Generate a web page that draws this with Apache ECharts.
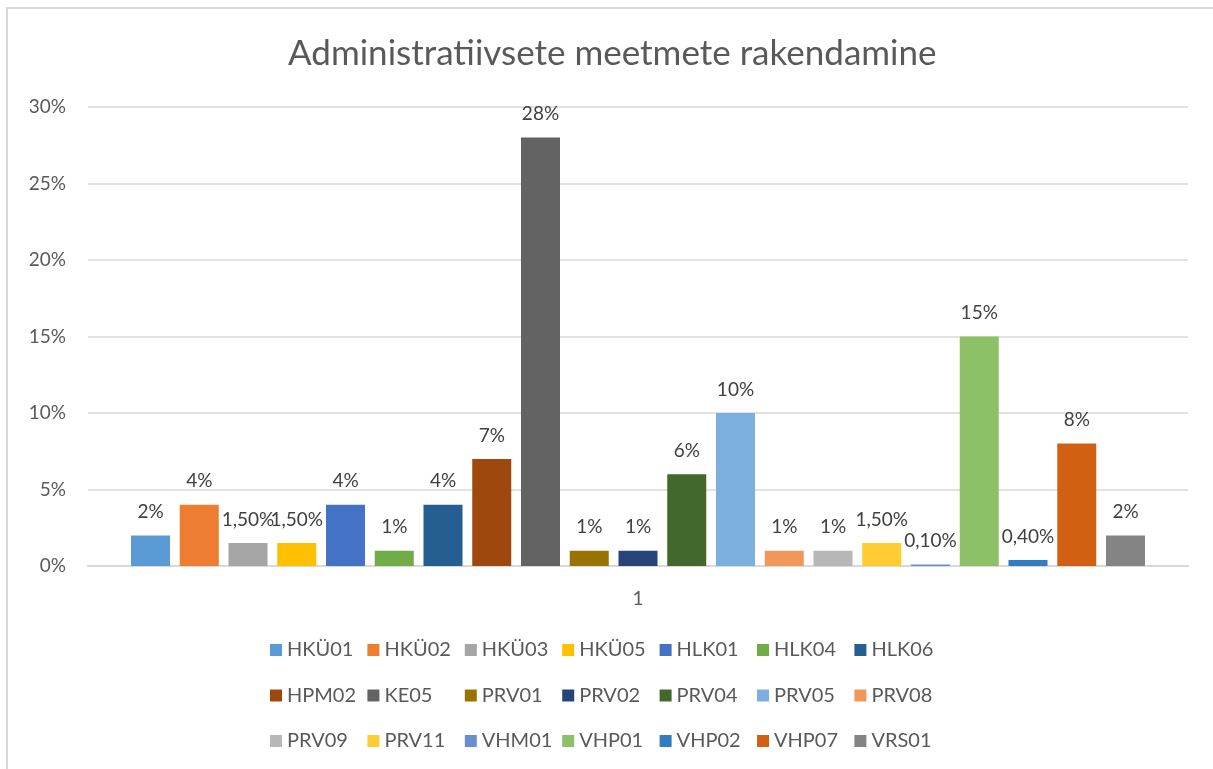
<!DOCTYPE html>
<html>
<head>
<meta charset="utf-8">
<script src="https://cdn.jsdelivr.net/npm/echarts@6/dist/echarts.min.js"></script>
<style>
  html, body { margin: 0; padding: 0; background: #fff; }
  #chart { width: 1213px; height: 769px; }
</style>
</head>
<body>
<div id="chart"></div>
<script>
const seriesNames = ['HKÜ01', 'HKÜ02', 'HKÜ03', 'HKÜ05', 'HLK01', 'HLK04', 'HLK06',
    'HPM02', 'KE05', 'PRV01', 'PRV02', 'PRV04', 'PRV05', 'PRV08',
    'PRV09', 'PRV11', 'VHM01', 'VHP01', 'VHP02', 'VHP07', 'VRS01'];
const seriesValues = [0.02, 0.04, 0.015, 0.015, 0.04, 0.01, 0.04,
    0.07, 0.28, 0.01, 0.01, 0.06, 0.10, 0.01,
    0.01, 0.015, 0.001, 0.15, 0.004, 0.08, 0.02];
const valueLabels = ['2%', '4%', '1,50%', '1,50%', '4%', '1%', '4%',
    '7%', '28%', '1%', '1%', '6%', '10%', '1%',
    '1%', '1,50%', '0,10%', '15%', '0,40%', '8%', '2%'];
const seriesColors = ['#5B9BD5', '#ED7D31', '#A5A5A5', '#FFC000', '#4472C4', '#70AD47', '#255E91',
    '#9E480E', '#636363', '#997300', '#264478', '#43682B', '#7CAFDD', '#F1975A',
    '#B7B7B7', '#FFCD33', '#698ED0', '#8CC168', '#327DC2', '#D26012', '#848484'];
const categories = ['1'];
const yTicks = [0, 0.05, 0.10, 0.15, 0.20, 0.25, 0.30];

const fontFamily = 'Lato, "Liberation Sans", sans-serif';

const chart = echarts.init(document.getElementById('chart'));

// Excel lays the legend out as a 7-column grid, so place each entry in its cell
const legendCells = seriesNames.map((name, i) => ({
    data: [name],
    left: 265 + (i % 7) * 97.4,
    top: 635 + Math.floor(i / 7) * 45.5,
    itemWidth: 12,
    itemHeight: 12,
    icon: 'rect',
    textStyle: {fontFamily: fontFamily, fontSize: 20, color: '#595959'}
}));

const series = seriesNames.map((name, i) => ({
    name: name,
    type: 'bar',
    data: [seriesValues[i]],
    barWidth: 39,
    barGap: '25%',
    itemStyle: {color: seriesColors[i]},
    label: {
        show: true,
        position: 'top',
        distance: 14,
        fontFamily: fontFamily,
        fontSize: 19,
        color: '#404040',
        formatter: () => valueLabels[i]
    }
}));

const options = {
    animation: false,
    title: {
        text: 'Administratiivsete meetmete rakendamine',
        left: 283,
        top: 31,
        textStyle: {fontFamily: fontFamily, fontSize: 35, fontWeight: 'normal', color: '#595959'}
    },
    legend: legendCells,
    grid: {left: 88, right: 25, top: 107, bottom: 203, containLabel: false},
    xAxis: {
        type: 'category',
        data: categories,
        axisLine: {lineStyle: {color: '#d9d9d9', width: 2}},
        axisTick: {show: false},
        axisLabel: {fontFamily: fontFamily, fontSize: 19, color: '#595959', margin: 23}
    },
    yAxis: {
        type: 'value',
        min: yTicks[0],
        max: yTicks[yTicks.length - 1],
        interval: 0.05,
        axisLine: {show: false},
        axisTick: {show: false},
        splitLine: {lineStyle: {color: '#d9d9d9', width: 1.5}},
        axisLabel: {
            fontFamily: fontFamily, fontSize: 19, color: '#595959', margin: 22,
            formatter: v => Math.round(v * 100) + '%'
        }
    },
    graphic: [{
        type: 'polyline',
        shape: {points: [[7, 780], [7, 8], [1230, 8]]},
        style: {stroke: '#d9d9d9', lineWidth: 2, fill: null}
    }],
    series: series
};

chart.setOption(options);
</script>
</body>
</html>
